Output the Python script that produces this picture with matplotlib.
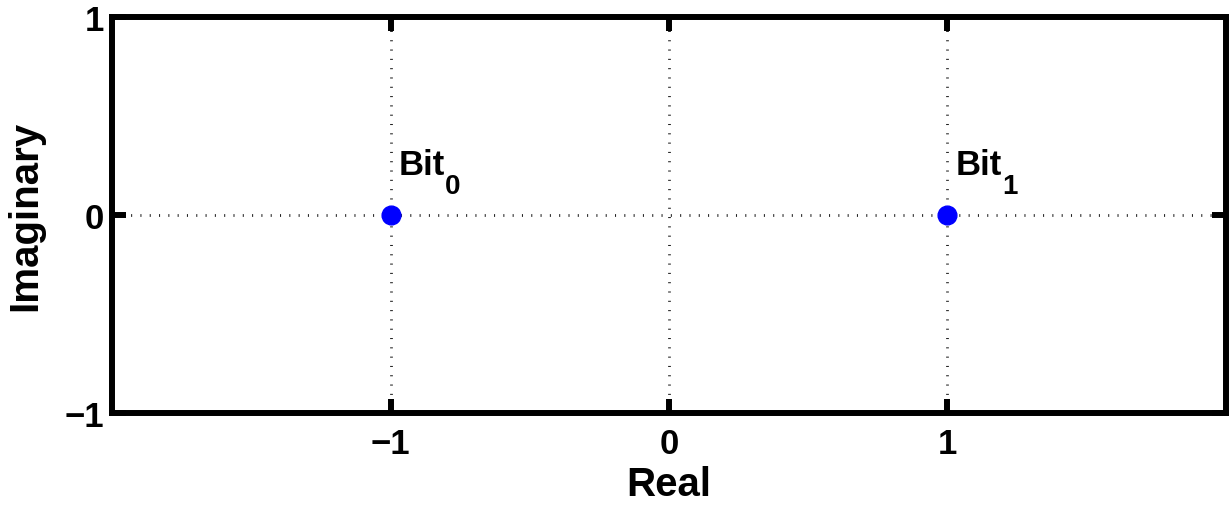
import matplotlib
matplotlib.use("Agg")
import matplotlib.pyplot as plt

# Data
bit_labels = ["0", "1"]
real_vals = [-1, 1]
imag_vals = [0, 0]
x_ticks = [-1, 0, 1]
y_ticks = [-1, 0, 1]
x_ticklabels = ["\u22121", "0", "1"]
y_ticklabels = ["\u22121", "0", "1"]

plt.rcParams['font.family'] = ['Liberation Sans', 'DejaVu Sans']
plt.rcParams['font.weight'] = 'bold'
plt.rcParams['lines.scale_dashes'] = False

fig = plt.figure(figsize=(12.31, 5.06), dpi=100)
ax = fig.add_axes([0.0910, 0.1818, 0.9049, 0.782])

ax.set_xlim(-2, 2)
ax.set_ylim(-1, 1)

# grid (dotted)
grid_kw = dict(color='#222222', lw=2.0, dashes=(0.75, 5.95), dash_capstyle='butt', zorder=1)
for xv in x_ticks:
    ax.axvline(xv, **grid_kw)
ax.axhline(0, **grid_kw)

ax.plot(real_vals, imag_vals, 'o', color='#0000ff', markersize=13.5, zorder=3)

for xr, yi, b in zip(real_vals, imag_vals, bit_labels):
    t = ax.text(xr + 0.028, yi + 0.21, 'Bit', fontsize=25, fontweight='bold',
                ha='left', va='baseline', zorder=4)
    ax.annotate(b, xy=(1.0, 0.0), xycoords=t, xytext=(0.5, 5.5),
                textcoords='offset points', fontsize=20, fontweight='bold',
                ha='left', va='top', zorder=4)

ax.set_xticks(x_ticks)
ax.set_xticklabels(x_ticklabels)
ax.set_yticks(y_ticks)
ax.set_yticklabels(y_ticklabels)
ax.tick_params(direction='in', length=10, width=4.3, labelsize=25,
               top=True, right=True)
ax.tick_params(axis='x', pad=10)
ax.tick_params(axis='y', pad=6)
for lab in ax.get_xticklabels() + ax.get_yticklabels():
    lab.set_fontweight('bold')

for sp in ax.spines.values():
    sp.set_linewidth(4.3)

ax.set_xlabel('Real', fontsize=29, fontweight='bold', labelpad=4)
ax.set_ylabel('Imaginary', fontsize=29, fontweight='bold', labelpad=14)

fig.savefig('out.png', dpi=100)
